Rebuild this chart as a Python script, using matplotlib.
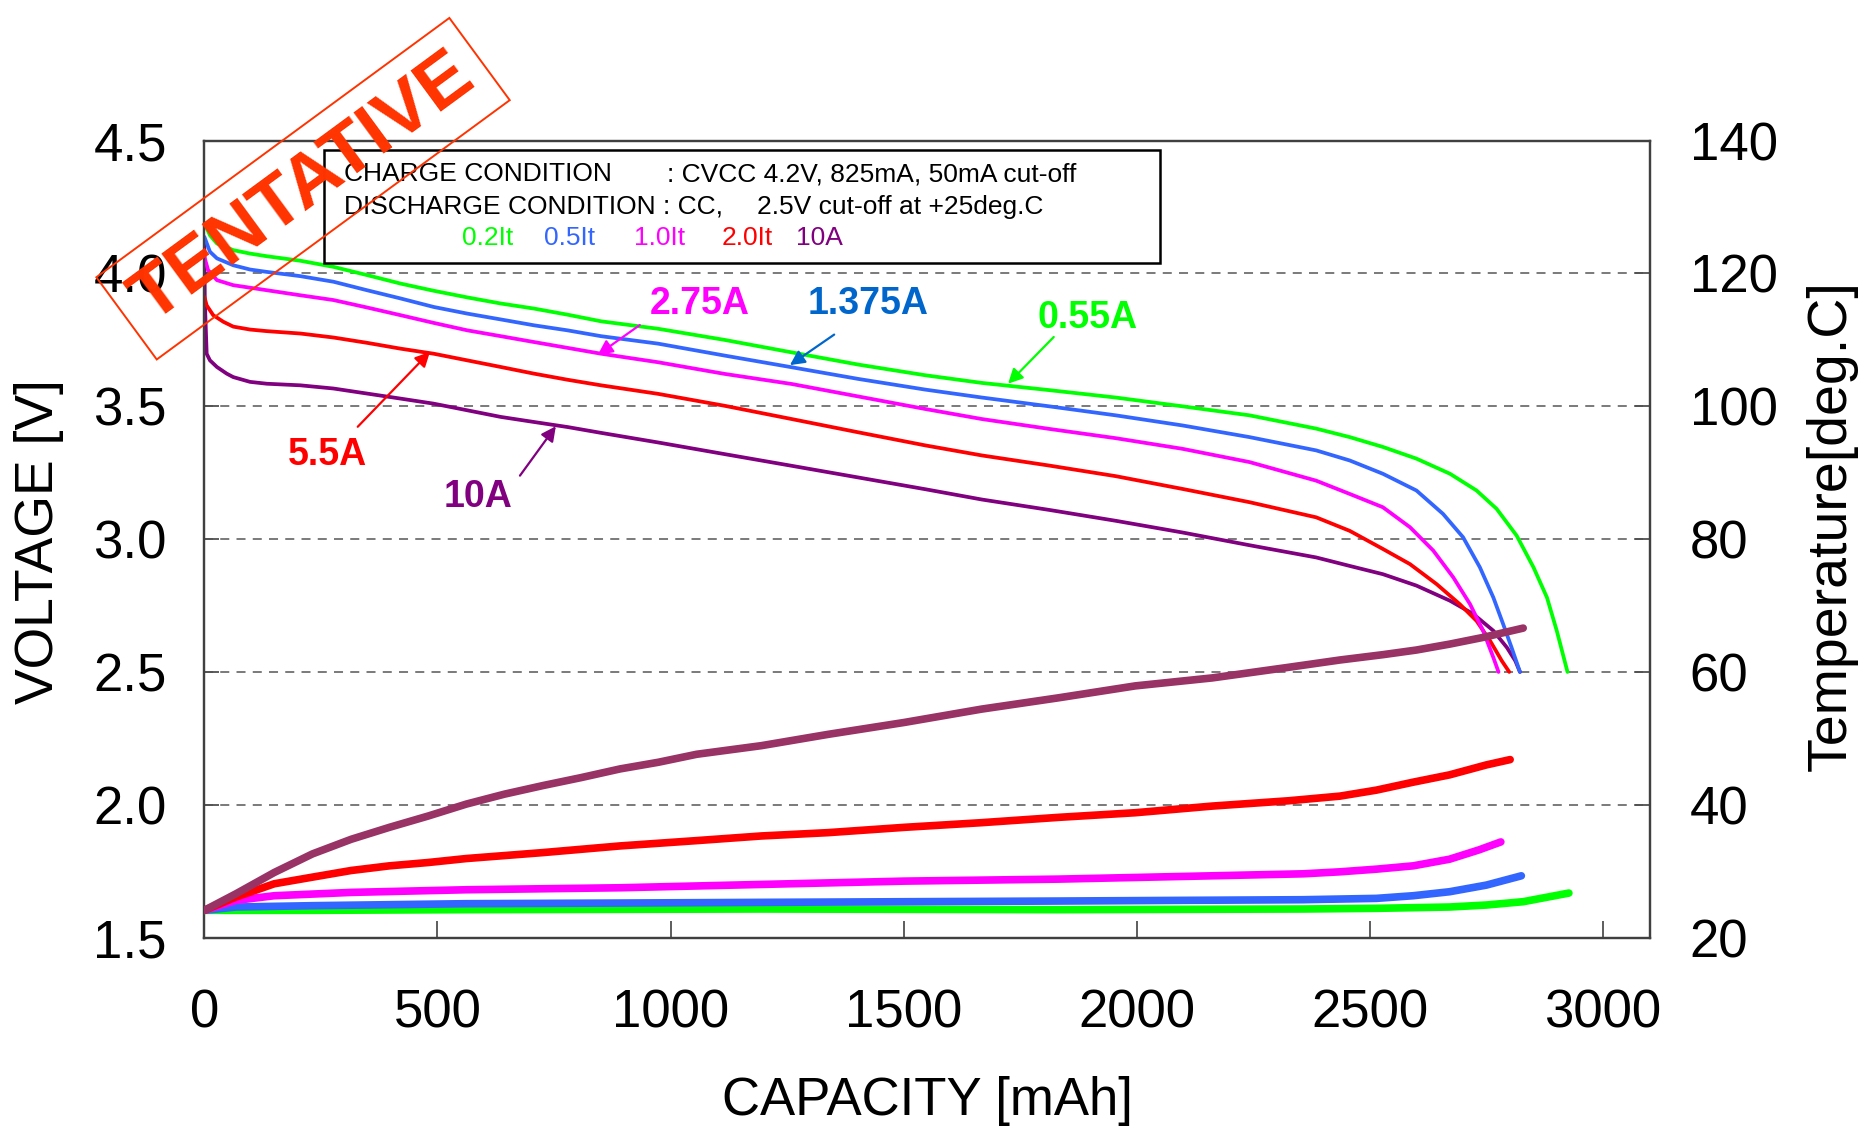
import matplotlib
matplotlib.use("Agg")
import matplotlib.pyplot as plt
from matplotlib.patches import Rectangle

plt.rcParams['font.family'] = ['Liberation Sans', 'DejaVu Sans']

# ---- discharge voltage curves (capacity mAh, voltage V) ----
cap_055 = [0, 12, 27, 62, 98, 134, 206, 277, 349, 421, 492, 564, 636, 707, 779, 851, 973, 1116,
           1260, 1403, 1546, 1668, 1812, 1955, 2098, 2242, 2385, 2457, 2528, 2600, 2672, 2729,
           2772, 2815, 2851, 2880, 2901, 2924]
volt_055 = [4.19, 4.144, 4.113, 4.088, 4.075, 4.065, 4.048, 4.025, 3.994, 3.962, 3.935, 3.91,
            3.887, 3.868, 3.845, 3.82, 3.792, 3.750, 3.703, 3.657, 3.617, 3.588, 3.561, 3.533,
            3.50, 3.466, 3.416, 3.384, 3.347, 3.303, 3.246, 3.183, 3.114, 3.013, 2.894, 2.78,
            2.655, 2.50]

cap_1375 = [0, 12, 27, 62, 98, 134, 206, 277, 349, 421, 492, 564, 636, 707, 779, 851, 973, 1116,
            1260, 1403, 1546, 1668, 1812, 1955, 2098, 2242, 2385, 2457, 2528, 2600, 2657, 2700,
            2736, 2765, 2786, 2804, 2822]
volt_1375 = [4.138, 4.082, 4.057, 4.031, 4.015, 4.006, 3.99, 3.969, 3.937, 3.906, 3.874, 3.849,
             3.827, 3.805, 3.786, 3.764, 3.736, 3.691, 3.647, 3.603, 3.563, 3.533, 3.50, 3.466,
             3.428, 3.384, 3.334, 3.296, 3.246, 3.183, 3.095, 3.007, 2.894, 2.78, 2.68, 2.592,
             2.50]

cap_275 = [0, 8, 27, 62, 134, 206, 277, 349, 421, 492, 564, 636, 707, 779, 851, 973, 1116, 1260,
           1403, 1546, 1668, 1812, 1955, 2098, 2242, 2385, 2457, 2528, 2586, 2636, 2679, 2715,
           2743, 2765, 2776]
volt_275 = [4.063, 4.013, 3.975, 3.956, 3.937, 3.918, 3.90, 3.872, 3.843, 3.814, 3.786, 3.764,
            3.742, 3.72, 3.698, 3.666, 3.622, 3.584, 3.537, 3.490, 3.452, 3.415, 3.380, 3.34,
            3.29, 3.22, 3.17, 3.12, 3.045, 2.957, 2.856, 2.755, 2.655, 2.554, 2.50]

cap_55 = [0, 5, 19, 41, 62, 98, 134, 206, 277, 349, 421, 492, 564, 636, 707, 779, 851, 973, 1116,
          1260, 1403, 1546, 1668, 1812, 1955, 2098, 2242, 2385, 2457, 2528, 2586, 2643, 2693,
          2729, 2758, 2783, 2799]
volt_55 = [3.912, 3.88, 3.843, 3.818, 3.80, 3.789, 3.783, 3.774, 3.759, 3.739, 3.717, 3.698,
           3.673, 3.648, 3.623, 3.60, 3.579, 3.547, 3.502, 3.452, 3.402, 3.353, 3.315, 3.277,
           3.237, 3.189, 3.139, 3.082, 3.031, 2.963, 2.906, 2.831, 2.755, 2.692, 2.617, 2.542,
           2.50]

cap_10 = [0, 1, 5, 12, 27, 48, 62, 98, 134, 206, 277, 349, 421, 492, 564, 636, 707, 779, 851,
          973, 1116, 1260, 1403, 1546, 1668, 1812, 1955, 2098, 2242, 2385, 2457, 2528, 2600,
          2672, 2722, 2765, 2794, 2812, 2822]
volt_10 = [4.12, 3.90, 3.698, 3.673, 3.648, 3.623, 3.61, 3.592, 3.585, 3.579, 3.567, 3.548,
           3.529, 3.51, 3.485, 3.46, 3.441, 3.422, 3.40, 3.364, 3.32, 3.276, 3.232, 3.188,
           3.149, 3.11, 3.069, 3.025, 2.977, 2.931, 2.899, 2.868, 2.825, 2.768, 2.718, 2.655,
           2.592, 2.542, 2.50]

# ---- cell temperature curves (capacity mAh, deg.C) ----
tcap_10 = [0, 68, 150, 232, 315, 397, 480, 562, 644, 727, 809, 892, 974, 1056, 1195, 1338, 1502,
           1667, 1832, 1997, 2162, 2326, 2436, 2528, 2600, 2672, 2743, 2829]
temp_10 = [24.1, 26.6, 29.8, 32.6, 34.8, 36.6, 38.3, 40.1, 41.6, 42.9, 44.1, 45.4, 46.4, 47.6,
           48.9, 50.6, 52.4, 54.4, 56.1, 57.9, 59.1, 60.7, 61.8, 62.6, 63.3, 64.2, 65.2, 66.6]

tcap_55 = [0, 68, 150, 232, 315, 397, 480, 562, 727, 892, 1056, 1195, 1338, 1502, 1667, 1832,
           1997, 2162, 2326, 2436, 2514, 2593, 2671, 2750, 2801]
temp_55 = [24.1, 26.1, 28.1, 29.1, 30.1, 30.8, 31.3, 31.9, 32.8, 33.8, 34.6, 35.3, 35.8, 36.6,
           37.3, 38.1, 38.8, 39.8, 40.6, 41.3, 42.2, 43.4, 44.5, 46.0, 46.8]

tcap_275 = [0, 68, 150, 315, 562, 892, 1195, 1502, 1832, 2162, 2357, 2436, 2514, 2593, 2671,
            2734, 2781]
temp_275 = [24.1, 25.6, 26.3, 26.8, 27.2, 27.5, 28.0, 28.5, 28.8, 29.3, 29.6, 29.9, 30.3, 30.8,
            31.8, 33.2, 34.4]

tcap_1375 = [0, 68, 232, 562, 892, 1195, 1832, 2357, 2514, 2593, 2671, 2750, 2825]
temp_1375 = [24.1, 24.6, 24.8, 25.1, 25.2, 25.3, 25.5, 25.7, 25.9, 26.3, 26.9, 27.9, 29.3]

tcap_055 = [0, 232, 562, 1195, 1832, 2357, 2514, 2671, 2750, 2829, 2927]
temp_055 = [24.1, 24.1, 24.2, 24.3, 24.2, 24.3, 24.4, 24.6, 24.9, 25.4, 26.7]

x_ticks = [0, 500, 1000, 1500, 2000, 2500, 3000]
v_ticks = [1.5, 2.0, 2.5, 3.0, 3.5, 4.0, 4.5]
t_ticks = [20, 40, 60, 80, 100, 120, 140]

GREEN, BLUE, MAGENTA, RED, PURPLE, MAROON = '#00FF00', '#3366FF', '#FF00FF', '#FF0000', '#800080', '#993366'

fig = plt.figure(figsize=(18.73, 11.30), dpi=100, facecolor='white')
ax = fig.add_axes([0.1091, 0.1703, 0.7716, 0.7052])
ax2 = ax.twinx()

for c, v, col in [(cap_10, volt_10, PURPLE), (cap_55, volt_55, RED), (cap_275, volt_275, MAGENTA),
                  (cap_1375, volt_1375, BLUE), (cap_055, volt_055, GREEN)]:
    ax.plot(c, v, color=col, lw=2.7, solid_capstyle='round', solid_joinstyle='round', zorder=3)

for c, t, col in [(tcap_055, temp_055, GREEN), (tcap_1375, temp_1375, BLUE),
                  (tcap_275, temp_275, MAGENTA), (tcap_55, temp_55, RED), (tcap_10, temp_10, MAROON)]:
    ax2.plot(c, t, color=col, lw=5.5, solid_capstyle='round', solid_joinstyle='round', zorder=3)

ax.set_xlim(0, 3100)
ax.set_ylim(1.5, 4.5)
ax2.set_ylim(20, 140)
ax.set_xticks(x_ticks)
ax.set_yticks(v_ticks)
ax.set_yticklabels([f'{v:.1f}' for v in v_ticks])
ax2.set_yticks(t_ticks)

for g in v_ticks[1:-1]:
    ax.axhline(g, color='#707070', lw=1.3, ls=(0, (5, 4)), zorder=1)

for a in (ax, ax2):
    for s in a.spines.values():
        s.set_color('#404040')
        s.set_linewidth(1.6)
ax.tick_params(axis='x', direction='in', length=12, width=1.3, color='#505050',
               labelsize=38, pad=37)
ax.tick_params(axis='y', direction='in', length=11, width=1.3, color='#505050',
               labelsize=38, pad=27)
ax2.tick_params(axis='y', direction='in', length=11, width=1.3, color='#505050',
                labelsize=38, pad=29)

fig.text(0.495, 0.026, 'CAPACITY [mAh]', fontsize=38, ha='center', va='center')
fig.text(0.021, 0.521, 'VOLTAGE [V]', fontsize=38.5, ha='center', va='center', rotation=90)
fig.text(0.978, 0.535, 'Temperature[deg.C]', fontsize=40, ha='center', va='center', rotation=90)

# condition box
ax2.add_patch(Rectangle((0.083, 0.847), 0.578, 0.141, transform=ax2.transAxes,
                        facecolor='white', edgecolor='black', lw=1.8, zorder=5))
fs = 19
ax2.text(0.0963, 0.958, 'CHARGE CONDITION', transform=ax2.transAxes, fontsize=fs,
         va='center', zorder=6)
ax2.text(0.3203, 0.958, ': CVCC 4.2V, 825mA, 50mA cut-off', transform=ax2.transAxes,
         fontsize=fs, va='center', zorder=6)
ax2.text(0.0963, 0.917, 'DISCHARGE CONDITION', transform=ax2.transAxes, fontsize=fs,
         va='center', zorder=6)
ax2.text(0.3175, 0.917, ': CC,', transform=ax2.transAxes, fontsize=fs, va='center', zorder=6)
ax2.text(0.3826, 0.917, '2.5V cut-off at +25deg.C', transform=ax2.transAxes, fontsize=fs,
         va='center', zorder=6)
for xt, lab, col in [(0.1784, '0.2It', GREEN), (0.2349, '0.5It', BLUE), (0.2971, '1.0It', MAGENTA),
                     (0.3577, '2.0It', RED), (0.4091, '10A', PURPLE)]:
    ax2.text(xt, 0.878, lab, transform=ax2.transAxes, fontsize=fs, color=col, va='center', zorder=6)

# current callouts
callouts = [
    ('2.75A', MAGENTA, (1063, 3.887), (934, 3.806), (844, 3.694)),
    ('1.375A', '#0066CC', (1423, 3.887), (1351, 3.77), (1256, 3.655)),
    ('0.55A', GREEN, (1894, 3.833), (1822, 3.761), (1724, 3.585)),
    ('5.5A', RED, (265, 3.315), (329, 3.423), (484, 3.705)),
    ('10A', PURPLE, (587, 3.158), (677, 3.239), (754, 3.425)),
]
for lab, col, txy, tail, head in callouts:
    ax.text(txy[0], txy[1], lab, color=col, fontsize=27, fontweight='bold',
            ha='center', va='center', zorder=4)
    ax.annotate('', xy=head, xytext=tail,
                arrowprops=dict(arrowstyle='-|>', color=col, lw=1.6, mutation_scale=22,
                                shrinkA=0, shrinkB=0), zorder=4)

# stamp
fig.text(0.1618, 0.833, 'TENTATIVE', fontsize=54, fontweight='bold', color='#FF3300',
         rotation=36.3, rotation_mode='anchor', ha='center', va='center', zorder=10,
         bbox=dict(boxstyle='square,pad=0.22', facecolor='none', edgecolor='#FF3300', lw=1.4))

fig.savefig('out.png', dpi=100, facecolor='white')
